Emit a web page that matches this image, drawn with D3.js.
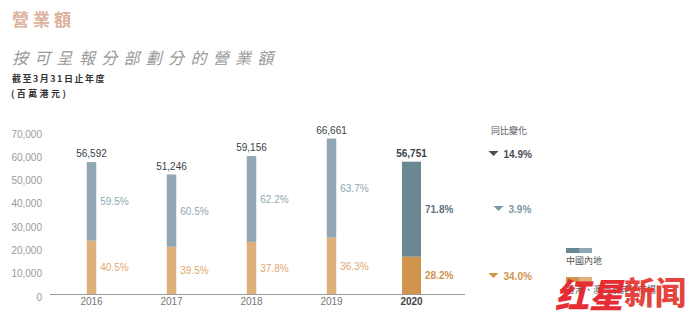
<!DOCTYPE html>
<html><head><meta charset="utf-8">
<script src="https://cdn.jsdelivr.net/npm/d3@7"></script>
<style>body{margin:0;background:#fff}svg{display:block}</style>
</head><body>
<svg id="c" width="691" height="336"></svg>
<script>
const years = ["2016","2017","2018","2019","2020"];
const totals = [56592, 51246, 59156, 66661, 56751];
const mainland = [33672, 31004, 36795, 42463, 40747];
const hkOther = [22920, 20242, 22361, 24198, 16004];
const mainlandPct = ["59.5%","60.5%","62.2%","63.7%","71.8%"];
const hkPct = ["40.5%","39.5%","37.8%","36.3%","28.2%"];
const yTicks = [0,10000,20000,30000,40000,50000,60000,70000];
const yoyLabels = ["14.9%","3.9%","34.0%"];
const legendLabels = ["中國內地","香港、澳門及其他市場"];

const svg = d3.select("#c");
const F = "'Liberation Sans', Arial, sans-serif";
const CJK = "'Noto Sans CJK TC', 'Noto Sans CJK SC', sans-serif";

// titles
svg.append("text").attr("x",12).attr("y",26).text("營業額")
  .attr("font-family",CJK).attr("font-size",17).attr("font-weight",700)
  .attr("letter-spacing",4).attr("fill","#dbb09c");
svg.append("text").attr("x",12).attr("y",64).text("按可呈報分部劃分的營業額")
  .attr("font-family",CJK).attr("font-size",16).attr("font-style","italic")
  .attr("letter-spacing",6.3).attr("fill","#9a9a9a");
svg.append("text").attr("x",12).attr("y",82).text("截至3月31日止年度")
  .attr("font-family",CJK).attr("font-size",9).attr("font-weight",700)
  .attr("letter-spacing",1.5).attr("fill","#333");
svg.append("text").attr("x",11).attr("y",97).text("(百萬港元)")
  .attr("font-family",CJK).attr("font-size",9).attr("font-weight",700)
  .attr("letter-spacing",2.4).attr("fill","#333");

const y = d3.scaleLinear().domain([0,70000]).range([294,130.8]);
const x = d3.scaleBand().domain(years).range([51.5,451.5]);

// y axis labels
const ya = svg.append("g").attr("transform","translate(42,3)")
  .call(d3.axisLeft(y).tickValues(yTicks).tickSize(0).tickPadding(0)
    .tickFormat(d=>d3.format(",")(d)));
ya.select(".domain").remove();
ya.selectAll("text").attr("font-family",F).attr("font-size",10).attr("fill","#9a9a9a");

// x axis line
svg.append("line").attr("x1",50).attr("x2",465).attr("y1",294.5).attr("y2",294.5)
  .attr("stroke","#9a9a9a").attr("stroke-width",1.2);
const xa = svg.append("g").attr("transform","translate(0,296)")
  .call(d3.axisBottom(x).tickSize(0).tickPadding(2));
xa.select(".domain").remove();
xa.selectAll("text").attr("font-family",F).attr("font-size",10)
  .attr("fill",(d,i)=>i===4?"#444":"#777").attr("font-weight",(d,i)=>i===4?700:400);

const cx = d => x(d) + x.bandwidth()/2;
const bw = i => i===4 ? 19 : 9.5;
const colTop = i => i===4 ? "#6b8791" : "#8fa7b3";
const colBot = i => i===4 ? "#d0944c" : "#e0b07c";

const g = svg.append("g");
years.forEach((yr,i)=>{
  const c = cx(yr), w = bw(i), l = c - w/2;
  g.append("rect").attr("x",l).attr("width",w)
    .attr("y",y(hkOther[i])).attr("height",y(0)-y(hkOther[i])).attr("fill",colBot(i));
  g.append("rect").attr("x",l).attr("width",w)
    .attr("y",y(hkOther[i]+mainland[i])).attr("height",y(hkOther[i])-y(hkOther[i]+mainland[i])).attr("fill",colTop(i));
  g.append("text").attr("x",c).attr("y",y(totals[i])-5).attr("text-anchor","middle")
    .text(d3.format(",")(totals[i])).attr("font-family",F).attr("font-size",10)
    .attr("font-weight",i===4?700:400).attr("fill","#3a3f48");
  g.append("text").attr("x",l+w+4).attr("y",(y(hkOther[i])+y(hkOther[i]+mainland[i]))/2+4)
    .text(mainlandPct[i]).attr("font-family",F).attr("font-size",10)
    .attr("font-weight",i===4?700:400).attr("fill",i===4?"#5d707c":"#8fa7b3");
  g.append("text").attr("x",l+w+4).attr("y",(y(0)+y(hkOther[i]))/2+4)
    .text(hkPct[i]).attr("font-family",F).attr("font-size",10)
    .attr("font-weight",i===4?700:400).attr("fill",i===4?"#d0944c":"#e0a870");
});

// YoY column
svg.append("text").attr("x",509).attr("y",134).attr("text-anchor","middle").text("同比變化")
  .attr("font-family",CJK).attr("font-size",9).attr("fill","#555");
const yoyY = [154, 209, 276];
const yoyCol = ["#4a4f55","#7d98a6","#d0944c"];
yoyLabels.forEach((t,i)=>{
  const yy = yoyY[i], tx = i===1 ? 498.5 : 493.5;
  svg.append("path").attr("d",`M${tx-5},${yy-3}L${tx+5},${yy-3}L${tx},${yy+2}Z`).attr("fill",yoyCol[i]);
  svg.append("text").attr("x",tx+10).attr("y",yy+3.5).text(t)
    .attr("font-family",F).attr("font-size",10).attr("font-weight",700).attr("fill",yoyCol[i]);
});

// legend
const lg = [[248,"#6b8791","#8fa7b3"],[277,"#d0944c","#e0b07c"]];
lg.forEach((d,i)=>{
  svg.append("rect").attr("x",566).attr("y",d[0]).attr("width",13).attr("height",5).attr("fill",d[1]);
  svg.append("rect").attr("x",579).attr("y",d[0]).attr("width",13).attr("height",5).attr("fill",d[2]);
  svg.append("text").attr("x",566).attr("y",d[0]+16).text(legendLabels[i])
    .attr("font-family",CJK).attr("font-size",9).attr("fill","#555");
});

// watermark
svg.append("text").attr("x",555).attr("y",308).text("红星")
  .attr("font-family","'Noto Sans CJK SC', sans-serif").attr("font-size",34).attr("font-weight",900)
  .attr("font-style","italic").attr("fill","#e6222a").attr("opacity",0.95);
svg.append("text").attr("x",624).attr("y",304).text("新闻")
  .attr("font-family","'Noto Sans CJK SC', sans-serif").attr("font-size",31).attr("font-weight",900)
  .attr("fill","#e33b33").attr("opacity",0.95);
</script>
</body></html>
